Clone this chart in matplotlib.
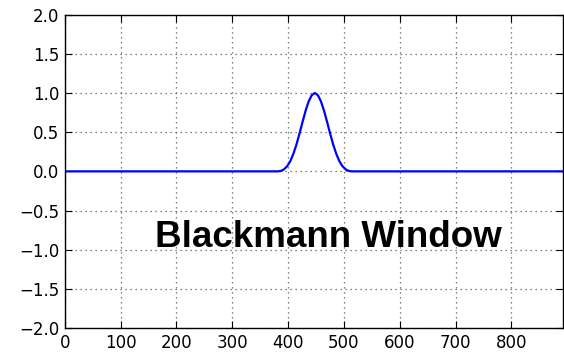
import matplotlib
matplotlib.use("Agg")
import matplotlib.pyplot as plt

# Values (Blackman window bump on a flat zero signal)
x_vals = [0, 382, 387.5, 393, 398.5, 404, 409.5, 415, 420.5, 426, 431.5, 437, 442.5, 448,
          453.5, 459, 464.5, 470, 475.5, 481, 486.5, 492, 497.5, 503, 508.5, 514, 900]
y_vals = [0.0, 0.0, 0.006, 0.027, 0.066, 0.13, 0.222, 0.34, 0.48, 0.63, 0.774, 0.893, 0.972, 1.0,
          0.972, 0.893, 0.774, 0.63, 0.48, 0.34, 0.222, 0.13, 0.066, 0.027, 0.006, 0.0, 0.0]
x_ticks = [0, 100, 200, 300, 400, 500, 600, 700, 800]
y_ticks = [-2.0, -1.5, -1.0, -0.5, 0.0, 0.5, 1.0, 1.5, 2.0]
label_text = "Blackmann Window"

fig = plt.figure(figsize=(5.64, 3.57), dpi=100)
ax = fig.add_axes([0.1147, 0.081, 0.884, 0.878])
ax.plot(x_vals, y_vals, color="#0000ff", lw=1.6)
ax.set_xlim(0, 893)
ax.set_ylim(-2.0, 2.0)
ax.set_xticks(x_ticks)
ax.set_yticks(y_ticks)
ax.set_yticklabels([f"{v:.1f}".replace("-", "\u2212") for v in y_ticks])
ax.tick_params(direction="in", length=5, width=0.8, top=True, right=True, labelsize=12, pad=4)
ax.grid(True, color="0.35", linestyle=(0, (1, 3)), linewidth=0.9)
for s in ax.spines.values():
    s.set_linewidth(1.0)
    s.set_color("black")

fig.text(155 / 564, 1 - 247 / 357, label_text, fontsize=26.5, fontweight="bold",
         family="Liberation Sans", ha="left", va="baseline")

fig.savefig("out.png", dpi=100)
